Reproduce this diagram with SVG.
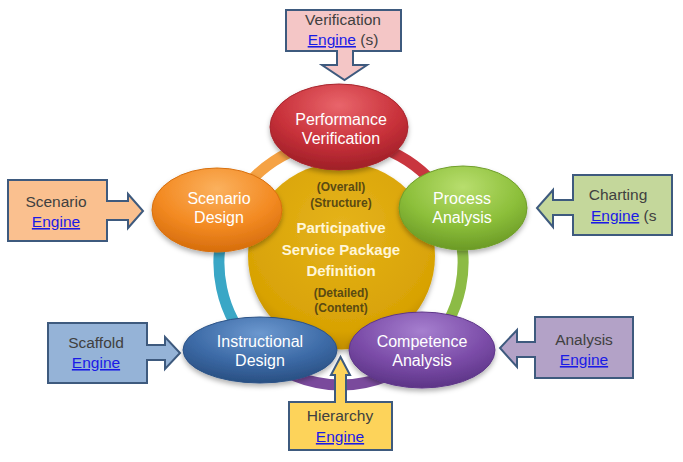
<svg xmlns="http://www.w3.org/2000/svg" width="683" height="462" viewBox="0 0 683 462">
<style>
.box{stroke:#3e5a7e;stroke-width:2;stroke-linejoin:miter}
.bt{font-family:"Liberation Sans",Arial,sans-serif;font-size:15.5px;fill:#404040;text-anchor:middle}
.lk{fill:#1a1ae6;text-decoration:underline}
.et{font-family:"Liberation Sans",Arial,sans-serif;font-size:16px;fill:#ffffff;text-anchor:middle}
.ct{font-family:"Liberation Sans",Arial,sans-serif;font-size:12px;font-weight:bold;fill:#5a4a12;text-anchor:middle}
.cb{font-family:"Liberation Sans",Arial,sans-serif;font-size:15px;font-weight:bold;fill:#fff6d8;text-anchor:middle}
.ring{fill:none;stroke-width:11}
</style>
<defs>
<radialGradient id="gRed" cx="50%" cy="25%" r="75%"><stop offset="0" stop-color="#e9656b"/><stop offset="0.6" stop-color="#c8313a"/><stop offset="1" stop-color="#9e1f27"/></radialGradient>
<radialGradient id="gOrg" cx="50%" cy="25%" r="75%"><stop offset="0" stop-color="#fbb15e"/><stop offset="0.6" stop-color="#f38a22"/><stop offset="1" stop-color="#d66d0c"/></radialGradient>
<radialGradient id="gGrn" cx="50%" cy="25%" r="75%"><stop offset="0" stop-color="#b8de6e"/><stop offset="0.6" stop-color="#8cbf3a"/><stop offset="1" stop-color="#6b9a26"/></radialGradient>
<radialGradient id="gBlu" cx="50%" cy="25%" r="75%"><stop offset="0" stop-color="#6c98cf"/><stop offset="0.6" stop-color="#3c6aa6"/><stop offset="1" stop-color="#294f82"/></radialGradient>
<radialGradient id="gPur" cx="50%" cy="25%" r="75%"><stop offset="0" stop-color="#a67fcf"/><stop offset="0.6" stop-color="#7b4ca8"/><stop offset="1" stop-color="#5c3486"/></radialGradient>
<radialGradient id="gGold" cx="50%" cy="35%" r="65%"><stop offset="0" stop-color="#e5b31c"/><stop offset="0.85" stop-color="#d8a204"/><stop offset="1" stop-color="#c08c00"/></radialGradient>
<filter id="sh" x="-20%" y="-20%" width="140%" height="150%"><feDropShadow dx="0" dy="3" stdDeviation="2.5" flood-color="#000" flood-opacity="0.3"/></filter>
</defs>
<rect width="683" height="462" fill="#ffffff"/>

<g id="connectors">
<path class="ring" stroke="#c9363f" d="M341,141 A122,122 0 0 1 452.5,213.4"/>
<path class="ring" stroke="#8cbb45" d="M452.5,213.4 A122,122 0 0 1 424.2,352.2"/>
<path class="ring" stroke="#7a4a9c" d="M424.2,352.2 A122,122 0 0 1 257.8,352.2"/>
<path class="ring" stroke="#3aa7c6" d="M257.8,352.2 A122,122 0 0 1 228.7,215.3"/>
<path class="ring" stroke="#f5a244" d="M228.7,215.3 A122,122 0 0 1 341,141"/>
</g>

<g id="center">
<circle cx="341.5" cy="256" r="93.5" fill="url(#gGold)" filter="url(#sh)"/>
<text class="ct" x="341" y="191">(Overall)</text>
<text class="ct" x="341" y="207">(Structure)</text>
<text class="cb" x="341" y="233">Participative</text>
<text class="cb" x="341" y="255">Service Package</text>
<text class="cb" x="341" y="276">Definition</text>
<text class="ct" x="341" y="297">(Detailed)</text>
<text class="ct" x="341" y="312">(Content)</text>
</g>

<g id="performance">
<ellipse cx="339" cy="127" rx="69" ry="43" fill="url(#gRed)" stroke="#a8252d" stroke-width="1" filter="url(#sh)"/>
<text class="et" x="341" y="125">Performance</text>
<text class="et" x="341" y="144">Verification</text>
</g>
<g id="scenario">
<ellipse cx="217" cy="210" rx="65" ry="42" fill="url(#gOrg)" stroke="#d8700f" stroke-width="1" filter="url(#sh)"/>
<text class="et" x="219" y="204">Scenario</text>
<text class="et" x="219" y="223">Design</text>
</g>
<g id="process">
<ellipse cx="463" cy="208" rx="64" ry="42" fill="url(#gGrn)" stroke="#6f9e2a" stroke-width="1" filter="url(#sh)"/>
<text class="et" x="462" y="204">Process</text>
<text class="et" x="462" y="223">Analysis</text>
</g>
<g id="instructional">
<ellipse cx="260" cy="350" rx="77" ry="33" fill="url(#gBlu)" stroke="#2b5286" stroke-width="1" filter="url(#sh)"/>
<text class="et" x="260" y="347">Instructional</text>
<text class="et" x="260" y="366">Design</text>
</g>
<g id="competence">
<ellipse cx="422" cy="350" rx="73" ry="38" fill="url(#gPur)" stroke="#5e3689" stroke-width="1" filter="url(#sh)"/>
<text class="et" x="422" y="347">Competence</text>
<text class="et" x="422" y="366">Analysis</text>
</g>

<g id="verification-engine">
<path class="box" fill="#f4c6c6" d="M286,10 H401 V51 H353 V65 H367 L344.5,80 L322,65 H337 V51 H286 Z"/>
<text class="bt" x="343" y="25">Verification</text>
<text class="bt" x="343" y="45"><tspan class="lk">Engine</tspan> (s)</text>
</g>
<g id="scenario-engine">
<path class="box" fill="#fac08f" d="M8,180 H107 V201 H128 V194 L143,211 L128,228 V220 H107 V241 H8 Z"/>
<text class="bt" x="56" y="207">Scenario</text>
<text class="bt lk" x="56" y="227">Engine</text>
</g>
<g id="charting-engine">
<path class="box" fill="#c4d79b" d="M573,175 H672 V235 H573 V215 H553 V227 L537,208 L553,190 V200 H573 Z"/>
<text class="bt" x="618" y="200">Charting</text>
<text class="bt" x="591" y="221" style="text-anchor:start"><tspan class="lk">Engine</tspan> (s</text>
</g>
<g id="scaffold-engine">
<path class="box" fill="#95b3d7" d="M48,323 H147 V345 H165 V337 L180,353 L165,369 V360 H147 V383 H48 Z"/>
<text class="bt" x="96" y="348">Scaffold</text>
<text class="bt lk" x="96" y="368">Engine</text>
</g>
<g id="analysis-engine">
<path class="box" fill="#b3a2c7" d="M535,317 H633 V378 H535 V357 H517 V367 L500,348 L517,330 V342 H535 Z"/>
<text class="bt" x="584" y="345">Analysis</text>
<text class="bt lk" x="584" y="365">Engine</text>
</g>
<g id="hierarchy-engine">
<path class="box" fill="#fdd35a" d="M289,402 H335 V375 H331 L340.5,357 L350,375 H346 V402 H392 V450 H289 Z"/>
<text class="bt" x="340" y="421">Hierarchy</text>
<text class="bt lk" x="340" y="442">Engine</text>
</g>
</svg>
